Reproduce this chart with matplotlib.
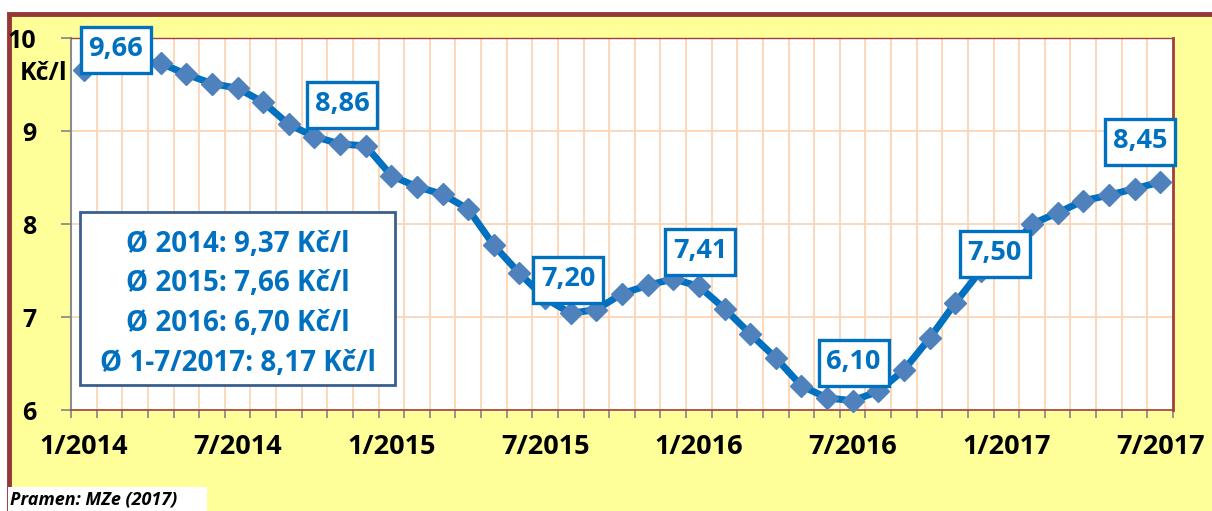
import matplotlib.pyplot as plt
from matplotlib.patches import Rectangle
from matplotlib.ticker import FixedLocator
from matplotlib.transforms import Affine2D, ScaledTranslation

# monthly prices 1/2014 - 7/2017 (Kc/l)
prices = [9.66, 9.74, 9.76, 9.73, 9.61, 9.51, 9.46, 9.31, 9.07, 8.94, 8.86, 8.84,
          8.52, 8.40, 8.32, 8.16, 7.77, 7.47, 7.20, 7.04, 7.08, 7.25, 7.34, 7.41,
          7.33, 7.09, 6.82, 6.56, 6.26, 6.13, 6.10, 6.20, 6.43, 6.77, 7.15, 7.50,
          7.68, 8.00, 8.12, 8.25, 8.31, 8.38, 8.45]
tick_pos = [0, 6, 12, 18, 24, 30, 36, 42]
tick_labels = ['1/2014', '7/2014', '1/2015', '7/2015', '1/2016', '7/2016', '1/2017', '7/2017']
label_idx = [0, 10, 18, 23, 30, 35, 42]
avg_names = ['2014', '2015', '2016', '1-7/2017']
avg_values = [9.37, 7.66, 6.70, 8.17]

# layout (pixels)
label_offsets = [(32, 20), (2, 39), (23, 18), (27, 27), (1, 38), (14, 17), (-20, 40)]
box_w, box_h = 70, 46
W, H = 1212, 511

blue = '#0070C0'
yellow = '#FFFF99'
frame_red = '#963737'
grid_col = '#FCD5B5'
font = 'Open Sans'
fs = 19.5

fig = plt.figure(figsize=(W / 100, H / 100), dpi=100)
fig.patch.set_facecolor('white')

# outer chart frame
fig.patches.append(Rectangle((9 / W, -0.1), 1.2, 1 - 14 / H + 0.1, transform=fig.transFigure,
                             facecolor=yellow, edgecolor=frame_red, linewidth=3.5, zorder=-5))

ax = fig.add_axes([71 / W, 101 / H, 1102 / W, 372 / H])
ax.set_zorder(1)
ax.set_facecolor('white')
x = list(range(len(prices)))
ax.plot(x, prices, color=blue, linewidth=5, marker='D', markersize=11.5,
        markerfacecolor='#4F81BD', markeredgecolor='#4F81BD', zorder=3, clip_on=False)

ax.set_xlim(-0.5, len(prices) - 0.5)
ax.set_ylim(6, 10)
ax.set_yticks([6, 7, 8, 9, 10])
ax.set_yticklabels(['6', '7', '8', '9', '10'], fontfamily=font, fontweight='bold', fontsize=18)
ax.set_xticks(tick_pos)
ax.set_xticklabels(tick_labels, fontfamily=font, fontweight='bold', fontsize=fs)
ax.xaxis.set_minor_locator(FixedLocator([i - 0.5 for i in range(len(prices) + 1)]))
ax.tick_params(axis='x', which='major', length=0, pad=17)
ax.tick_params(axis='x', which='minor', length=6, width=1.3, color='#8C8C8C')
ax.tick_params(axis='y', length=7, width=1.3, color='#8C8C8C', pad=18)

ax.grid(True, which='minor', axis='x', color=grid_col, linewidth=1.3, zorder=0)
ax.grid(True, which='major', axis='y', color=grid_col, linewidth=1.3, zorder=0)
ax.set_axisbelow(True)

for s in ['top', 'right', 'bottom']:
    ax.spines[s].set_color('#A04040')
ax.spines['top'].set_linewidth(1.0)
ax.spines['right'].set_linewidth(2.0)
ax.spines['bottom'].set_linewidth(1.2)
ax.spines['left'].set_color('#8C8C8C')
ax.spines['left'].set_linewidth(1.5)

fig.text(44 / W, 1 - 73 / H, 'Kč/l', ha='center', va='center', fontfamily=font,
         fontweight='bold', fontsize=18)

# data labels: fixed-size boxes in pixels, anchored at the data point
for i, off in zip(label_idx, label_offsets):
    anchor = Affine2D() + ScaledTranslation(i, prices[i], ax.transData)
    ax.add_patch(Rectangle((off[0] - box_w / 2, off[1] - box_h / 2), box_w, box_h,
                           transform=anchor, facecolor='white', edgecolor=blue,
                           linewidth=2.4, zorder=4, clip_on=False))
    ax.annotate(f'{prices[i]:.2f}'.replace('.', ','), (i, prices[i]), xytext=(off[0], off[1] + 1),
                textcoords='offset pixels', ha='center', va='center', color=blue,
                fontfamily=font, fontweight='bold', fontsize=fs, zorder=5)

# averages box
fig.patches.append(Rectangle((80 / W, 1 - 385 / H), 315 / W, 173 / H, transform=fig.transFigure,
                             facecolor='white', edgecolor='#3A5F8F', linewidth=2, zorder=4))
for k, (nm, v) in enumerate(zip(avg_names, avg_values)):
    fig.text(238 / W, 1 - (244 + 39.7 * k) / H, f'Ø {nm}: {v:.2f} Kč/l'.replace('.', ','),
             ha='center', va='center', color=blue, fontfamily=font, fontweight='bold',
             fontsize=20, zorder=6)

# source note
fig.patches.append(Rectangle((8 / W, 0), 199 / W, 24 / H, transform=fig.transFigure,
                             facecolor='white', edgecolor='none', zorder=4))
fig.text(10 / W, 12 / H, 'Pramen: MZe (2017)', ha='left', va='center', fontfamily=font,
         fontweight='bold', fontstyle='italic', fontsize=13, zorder=6)

fig.savefig('out.png', dpi=100)
